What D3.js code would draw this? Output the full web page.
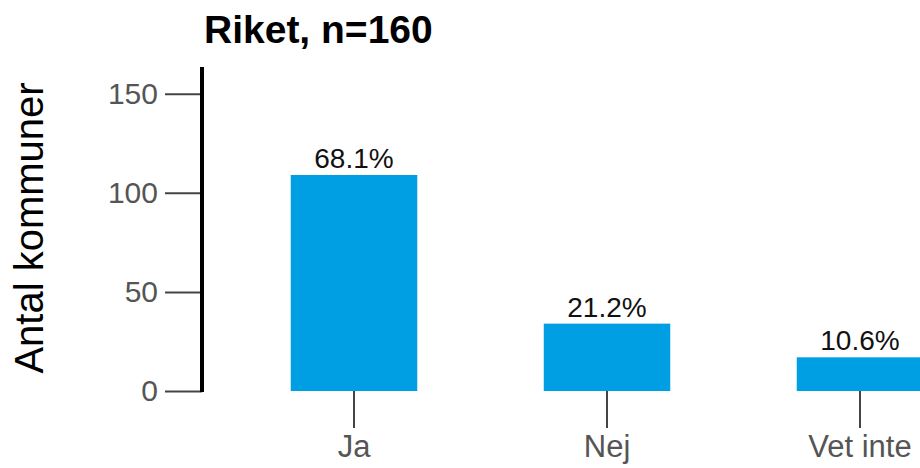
<!DOCTYPE html>
<html lang="sv">
<head>
  <meta charset="UTF-8">
  <title>Riket</title>
  <script src="https://d3js.org/d3.v7.min.js"></script>
  <style>
    body { margin: 0; background: #fff; }
    svg { display: block; font-family: "Liberation Sans", Arial, sans-serif; }
  </style>
</head>
<body>
<div class="main"></div>
<script>
  // data
  var categories = ["Ja", "Nej", "Vet inte"];
  var counts = [109, 34, 17];
  var percentLabels = ["68.1%", "21.2%", "10.6%"];
  var yTicks = [0, 50, 100, 150];
  var titleText = "Riket, n=160";
  var yTitle = "Antal kommuner";

  var width = 920, height = 468;
  var axisX = 202;

  var svg = d3.select(".main")
    .append("svg")
    .attr("width", width)
    .attr("height", height);

  var xScale = d3.scaleBand()
    .domain(categories)
    .range([227.5, 986.5])
    .paddingInner(0.5)
    .paddingOuter(0.25);

  var yScale = d3.scaleLinear()
    .domain([0, 163.5])
    .range([391, 67]);

  // bars
  svg.append("g").selectAll("rect")
    .data(categories)
    .join("rect")
    .attr("x", d => xScale(d))
    .attr("y", (d, i) => yScale(counts[i]))
    .attr("width", xScale.bandwidth())
    .attr("height", (d, i) => yScale(0) - yScale(counts[i]))
    .style("fill", "#009fe3");

  // percent labels above bars
  svg.append("g").selectAll("text")
    .data(categories)
    .join("text")
    .attr("x", d => xScale(d) + xScale.bandwidth() / 2)
    .attr("y", (d, i) => yScale(counts[i]) - 7)
    .attr("text-anchor", "middle")
    .style("font-size", "28px")
    .style("fill", "#111")
    .text((d, i) => percentLabels[i]);

  // y axis
  var yAxis = d3.axisLeft(yScale)
    .tickValues(yTicks)
    .tickSize(37)
    .tickPadding(7)
    .tickSizeOuter(0);

  var yG = svg.append("g")
    .attr("transform", `translate(${axisX},0)`)
    .call(yAxis);
  yG.select(".domain").remove();
  yG.selectAll(".tick line").style("stroke", "#444").style("stroke-width", 2);
  yG.selectAll(".tick text")
    .style("font-size", "30px")
    .style("fill", "#555")
    .style("font-family", "\"Liberation Sans\", Arial, sans-serif");

  // thick black axis line
  svg.append("line")
    .attr("x1", axisX).attr("x2", axisX)
    .attr("y1", yScale.range()[1]).attr("y2", yScale(0) + 1)
    .style("stroke", "#000")
    .style("stroke-width", 4);

  // x axis
  var xAxis = d3.axisBottom(xScale)
    .tickSize(37)
    .tickPadding(7)
    .tickSizeOuter(0);

  var xG = svg.append("g")
    .attr("transform", `translate(0,${yScale(0)})`)
    .call(xAxis);
  xG.select(".domain").remove();
  xG.selectAll(".tick line").style("stroke", "#444").style("stroke-width", 2);
  xG.selectAll(".tick text")
    .style("font-size", "31px")
    .style("fill", "#555")
    .style("font-family", "\"Liberation Sans\", Arial, sans-serif");

  // title
  svg.append("text")
    .attr("x", 204)
    .attr("y", 43)
    .style("font-size", "39px")
    .style("font-weight", "bold")
    .style("fill", "#000")
    .text(titleText);

  // y axis title
  svg.append("text")
    .attr("transform", "translate(43,228) rotate(-90)")
    .attr("text-anchor", "middle")
    .style("font-size", "40px")
    .style("fill", "#000")
    .text(yTitle);
</script>
</body>
</html>
